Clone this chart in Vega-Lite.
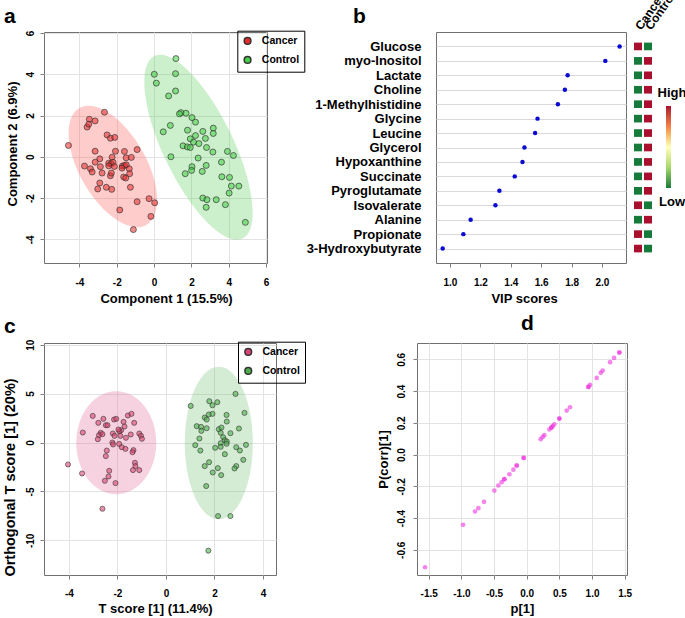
{
  "$schema": "https://vega.github.io/schema/vega-lite/v6.json",
  "autosize": {"type": "none"},
  "padding": {"left": 44, "top": 32, "right": 641, "bottom": 586},
  "background": "white",
  "datasets": {
    "a_points": [
      {"x": -2.66, "y": 2.16, "group": "Cancer"}, {"x": -3.47, "y": 1.82, "group": "Cancer"}, {"x": -3.16, "y": 1.74, "group": "Cancer"},
      {"x": -3.59, "y": 1.44, "group": "Cancer"}, {"x": -3.5, "y": 1.58, "group": "Cancer"}, {"x": -2.52, "y": 1.06, "group": "Cancer"},
      {"x": -2.34, "y": 0.9, "group": "Cancer"}, {"x": -2.11, "y": 0.94, "group": "Cancer"}, {"x": -4.59, "y": 0.55, "group": "Cancer"},
      {"x": -3.16, "y": 0.27, "group": "Cancer"}, {"x": -2.07, "y": 0.27, "group": "Cancer"}, {"x": -1.59, "y": 0.26, "group": "Cancer"},
      {"x": -0.91, "y": 0.35, "group": "Cancer"}, {"x": -2.91, "y": -0.1, "group": "Cancer"}, {"x": -2.25, "y": -0.02, "group": "Cancer"},
      {"x": -1.5, "y": -0.05, "group": "Cancer"}, {"x": -1.22, "y": -0.03, "group": "Cancer"}, {"x": -3.73, "y": -0.45, "group": "Cancer"},
      {"x": -3.41, "y": -0.58, "group": "Cancer"}, {"x": -3.32, "y": -0.74, "group": "Cancer"}, {"x": -3.16, "y": -0.26, "group": "Cancer"},
      {"x": -2.88, "y": -0.48, "group": "Cancer"}, {"x": -2.79, "y": -0.79, "group": "Cancer"}, {"x": -2.43, "y": -0.31, "group": "Cancer"},
      {"x": -2.3, "y": -0.34, "group": "Cancer"}, {"x": -2.2, "y": -0.27, "group": "Cancer"}, {"x": -2.43, "y": -0.44, "group": "Cancer"},
      {"x": -2.13, "y": -0.47, "group": "Cancer"}, {"x": -2.34, "y": -0.92, "group": "Cancer"}, {"x": -2.29, "y": -0.79, "group": "Cancer"},
      {"x": -1.7, "y": -0.45, "group": "Cancer"}, {"x": -1.59, "y": -0.42, "group": "Cancer"}, {"x": -1.49, "y": -0.39, "group": "Cancer"},
      {"x": -1.72, "y": -0.55, "group": "Cancer"}, {"x": -1.63, "y": -0.98, "group": "Cancer"}, {"x": -1.52, "y": -1.03, "group": "Cancer"},
      {"x": -1.33, "y": -0.58, "group": "Cancer"}, {"x": -1.31, "y": -0.82, "group": "Cancer"}, {"x": -2.91, "y": -1.27, "group": "Cancer"},
      {"x": -3.02, "y": -1.56, "group": "Cancer"}, {"x": -2.56, "y": -1.48, "group": "Cancer"}, {"x": -2.27, "y": -1.58, "group": "Cancer"},
      {"x": -1.27, "y": -1.48, "group": "Cancer"}, {"x": -0.91, "y": -2.18, "group": "Cancer"}, {"x": -0.27, "y": -2.03, "group": "Cancer"},
      {"x": 0.03, "y": -2.23, "group": "Cancer"}, {"x": -1.84, "y": -2.58, "group": "Cancer"}, {"x": -0.17, "y": -2.89, "group": "Cancer"},
      {"x": -1.11, "y": -3.53, "group": "Cancer"},
      {"x": 1.17, "y": 4.76, "group": "Control"}, {"x": 0.01, "y": 4.0, "group": "Control"}, {"x": 1.15, "y": 4.03, "group": "Control"},
      {"x": 0.12, "y": 3.57, "group": "Control"}, {"x": 1.15, "y": 3.19, "group": "Control"}, {"x": 0.78, "y": 2.95, "group": "Control"},
      {"x": 1.44, "y": 2.14, "group": "Control"}, {"x": 1.71, "y": 2.11, "group": "Control"}, {"x": 1.36, "y": 2.08, "group": "Control"},
      {"x": 2.03, "y": 1.9, "group": "Control"}, {"x": 2.22, "y": 1.68, "group": "Control"}, {"x": 0.87, "y": 1.52, "group": "Control"},
      {"x": 0.49, "y": 1.21, "group": "Control"}, {"x": 1.79, "y": 1.29, "group": "Control"}, {"x": 2.61, "y": 1.23, "group": "Control"},
      {"x": 3.17, "y": 1.39, "group": "Control"}, {"x": 3.17, "y": 1.13, "group": "Control"}, {"x": 2.22, "y": 1.03, "group": "Control"},
      {"x": 1.94, "y": 0.87, "group": "Control"}, {"x": 2.75, "y": 0.89, "group": "Control"}, {"x": 2.11, "y": 0.71, "group": "Control"},
      {"x": 2.4, "y": 0.64, "group": "Control"}, {"x": 1.55, "y": 0.53, "group": "Control"}, {"x": 1.78, "y": 0.48, "group": "Control"},
      {"x": 1.94, "y": 0.45, "group": "Control"}, {"x": 2.81, "y": 0.45, "group": "Control"}, {"x": 3.93, "y": 0.26, "group": "Control"},
      {"x": 4.25, "y": 0.06, "group": "Control"}, {"x": 3.15, "y": 0.23, "group": "Control"}, {"x": 0.9, "y": 0.0, "group": "Control"},
      {"x": 2.36, "y": -0.06, "group": "Control"}, {"x": 3.61, "y": -0.26, "group": "Control"}, {"x": 2.79, "y": -0.42, "group": "Control"},
      {"x": 2.03, "y": -0.48, "group": "Control"}, {"x": 2.01, "y": -0.66, "group": "Control"}, {"x": 2.58, "y": -0.71, "group": "Control"},
      {"x": 1.67, "y": -0.82, "group": "Control"}, {"x": 3.63, "y": -0.97, "group": "Control"}, {"x": 4.04, "y": -1.0, "group": "Control"},
      {"x": 4.14, "y": -1.42, "group": "Control"}, {"x": 4.54, "y": -1.42, "group": "Control"}, {"x": 4.02, "y": -1.76, "group": "Control"},
      {"x": 2.61, "y": -2.0, "group": "Control"}, {"x": 2.83, "y": -2.08, "group": "Control"}, {"x": 3.33, "y": -2.08, "group": "Control"},
      {"x": 2.79, "y": -2.45, "group": "Control"}, {"x": 3.82, "y": -2.32, "group": "Control"}, {"x": 4.89, "y": -3.18, "group": "Control"}
    ],
    "c_points": [
      {"x": -3.02, "y": 2.72, "group": "Cancer"}, {"x": -2.58, "y": 2.42, "group": "Cancer"}, {"x": -2.79, "y": 2.01, "group": "Cancer"},
      {"x": -2.48, "y": 1.77, "group": "Cancer"}, {"x": -2.41, "y": 1.77, "group": "Cancer"}, {"x": -2.14, "y": 2.35, "group": "Cancer"},
      {"x": -2.05, "y": 2.42, "group": "Cancer"}, {"x": -1.75, "y": 2.11, "group": "Cancer"}, {"x": -1.57, "y": 2.76, "group": "Cancer"},
      {"x": -1.42, "y": 2.93, "group": "Cancer"}, {"x": -1.31, "y": 2.01, "group": "Cancer"}, {"x": -1.71, "y": 1.63, "group": "Cancer"},
      {"x": -1.85, "y": 1.26, "group": "Cancer"}, {"x": -1.92, "y": 1.15, "group": "Cancer"}, {"x": -1.96, "y": 1.33, "group": "Cancer"},
      {"x": -3.43, "y": 1.02, "group": "Cancer"}, {"x": -2.69, "y": 0.99, "group": "Cancer"}, {"x": -2.76, "y": 0.75, "group": "Cancer"},
      {"x": -2.62, "y": 0.85, "group": "Cancer"}, {"x": -2.81, "y": 0.34, "group": "Cancer"}, {"x": -2.19, "y": 0.92, "group": "Cancer"},
      {"x": -2.12, "y": 0.68, "group": "Cancer"}, {"x": -1.88, "y": 0.68, "group": "Cancer"}, {"x": -1.65, "y": 0.48, "group": "Cancer"},
      {"x": -1.45, "y": 0.82, "group": "Cancer"}, {"x": -1.1, "y": 0.92, "group": "Cancer"}, {"x": -1.03, "y": 0.68, "group": "Cancer"},
      {"x": -0.99, "y": 0.38, "group": "Cancer"}, {"x": -2.21, "y": 0.0, "group": "Cancer"}, {"x": -2.18, "y": -0.2, "group": "Cancer"},
      {"x": -1.93, "y": -0.14, "group": "Cancer"}, {"x": -1.82, "y": -0.48, "group": "Cancer"}, {"x": -1.67, "y": -0.65, "group": "Cancer"},
      {"x": -1.34, "y": -0.78, "group": "Cancer"}, {"x": -1.38, "y": -0.99, "group": "Cancer"}, {"x": -2.44, "y": -0.82, "group": "Cancer"},
      {"x": -2.48, "y": -1.39, "group": "Cancer"}, {"x": -1.28, "y": -2.07, "group": "Cancer"}, {"x": -1.26, "y": -2.41, "group": "Cancer"},
      {"x": -1.36, "y": -2.82, "group": "Cancer"}, {"x": -1.1, "y": -2.82, "group": "Cancer"}, {"x": -2.34, "y": -2.89, "group": "Cancer"},
      {"x": -2.37, "y": -3.47, "group": "Cancer"}, {"x": -2.52, "y": -3.91, "group": "Cancer"}, {"x": -2.08, "y": -4.15, "group": "Cancer"},
      {"x": -4.04, "y": -2.24, "group": "Cancer"}, {"x": -3.46, "y": -3.16, "group": "Cancer"}, {"x": -2.62, "y": -6.77, "group": "Cancer"},
      {"x": 2.87, "y": 4.97, "group": "Control"}, {"x": 1.02, "y": 3.74, "group": "Control"}, {"x": 1.79, "y": 4.22, "group": "Control"},
      {"x": 2.12, "y": 4.12, "group": "Control"}, {"x": 1.92, "y": 3.81, "group": "Control"}, {"x": 3.24, "y": 3.03, "group": "Control"},
      {"x": 1.77, "y": 2.86, "group": "Control"}, {"x": 1.92, "y": 2.93, "group": "Control"}, {"x": 1.6, "y": 2.55, "group": "Control"},
      {"x": 1.68, "y": 2.35, "group": "Control"}, {"x": 2.5, "y": 2.82, "group": "Control"}, {"x": 2.51, "y": 2.14, "group": "Control"},
      {"x": 1.27, "y": 1.67, "group": "Control"}, {"x": 1.45, "y": 1.6, "group": "Control"}, {"x": 1.68, "y": 1.46, "group": "Control"},
      {"x": 1.46, "y": 1.19, "group": "Control"}, {"x": 2.18, "y": 1.36, "group": "Control"}, {"x": 2.29, "y": 1.53, "group": "Control"},
      {"x": 3.01, "y": 1.43, "group": "Control"}, {"x": 2.26, "y": 0.99, "group": "Control"}, {"x": 2.66, "y": 0.95, "group": "Control"},
      {"x": 2.36, "y": 0.54, "group": "Control"}, {"x": 2.43, "y": 0.24, "group": "Control"}, {"x": 2.51, "y": 0.1, "group": "Control"},
      {"x": 1.38, "y": 0.41, "group": "Control"}, {"x": 2.26, "y": -0.07, "group": "Control"}, {"x": 2.5, "y": -0.13, "group": "Control"},
      {"x": 1.21, "y": -0.27, "group": "Control"}, {"x": 2.03, "y": -0.54, "group": "Control"}, {"x": 2.26, "y": -0.44, "group": "Control"},
      {"x": 2.9, "y": -0.48, "group": "Control"}, {"x": 3.3, "y": -0.24, "group": "Control"}, {"x": 3.05, "y": -0.82, "group": "Control"},
      {"x": 1.42, "y": -0.82, "group": "Control"}, {"x": 2.43, "y": -1.19, "group": "Control"}, {"x": 3.19, "y": -1.77, "group": "Control"},
      {"x": 1.78, "y": -2.01, "group": "Control"}, {"x": 1.6, "y": -2.41, "group": "Control"}, {"x": 2.14, "y": -2.62, "group": "Control"},
      {"x": 2.9, "y": -2.41, "group": "Control"}, {"x": 2.83, "y": -2.65, "group": "Control"}, {"x": 1.93, "y": -3.06, "group": "Control"},
      {"x": 2.28, "y": -3.33, "group": "Control"}, {"x": 1.66, "y": -4.45, "group": "Control"}, {"x": 2.15, "y": -7.52, "group": "Control"},
      {"x": 2.66, "y": -7.52, "group": "Control"}, {"x": 1.75, "y": -11.05, "group": "Control"}
    ],
    "vip": [
      {"metabolite": "Glucose", "vip": 2.116}, {"metabolite": "myo-Inositol", "vip": 2.022}, {"metabolite": "Lactate", "vip": 1.774},
      {"metabolite": "Choline", "vip": 1.756}, {"metabolite": "1-Methylhistidine", "vip": 1.71}, {"metabolite": "Glycine", "vip": 1.576},
      {"metabolite": "Leucine", "vip": 1.56}, {"metabolite": "Glycerol", "vip": 1.49}, {"metabolite": "Hypoxanthine", "vip": 1.477},
      {"metabolite": "Succinate", "vip": 1.426}, {"metabolite": "Pyroglutamate", "vip": 1.325}, {"metabolite": "Isovalerate", "vip": 1.299},
      {"metabolite": "Alanine", "vip": 1.136}, {"metabolite": "Propionate", "vip": 1.088}, {"metabolite": "3-Hydroxybutyrate", "vip": 0.952}
    ],
    "heat": [
      {"metabolite": "Glucose", "group": "Cancer", "level": 1}, {"metabolite": "Glucose", "group": "Control", "level": 0},
      {"metabolite": "myo-Inositol", "group": "Cancer", "level": 0}, {"metabolite": "myo-Inositol", "group": "Control", "level": 1},
      {"metabolite": "Lactate", "group": "Cancer", "level": 0}, {"metabolite": "Lactate", "group": "Control", "level": 1},
      {"metabolite": "Choline", "group": "Cancer", "level": 0}, {"metabolite": "Choline", "group": "Control", "level": 1},
      {"metabolite": "1-Methylhistidine", "group": "Cancer", "level": 0}, {"metabolite": "1-Methylhistidine", "group": "Control", "level": 1},
      {"metabolite": "Glycine", "group": "Cancer", "level": 0}, {"metabolite": "Glycine", "group": "Control", "level": 1},
      {"metabolite": "Leucine", "group": "Cancer", "level": 0}, {"metabolite": "Leucine", "group": "Control", "level": 1},
      {"metabolite": "Glycerol", "group": "Cancer", "level": 0}, {"metabolite": "Glycerol", "group": "Control", "level": 1},
      {"metabolite": "Hypoxanthine", "group": "Cancer", "level": 0}, {"metabolite": "Hypoxanthine", "group": "Control", "level": 1},
      {"metabolite": "Succinate", "group": "Cancer", "level": 0}, {"metabolite": "Succinate", "group": "Control", "level": 1},
      {"metabolite": "Pyroglutamate", "group": "Cancer", "level": 0}, {"metabolite": "Pyroglutamate", "group": "Control", "level": 1},
      {"metabolite": "Isovalerate", "group": "Cancer", "level": 1}, {"metabolite": "Isovalerate", "group": "Control", "level": 0},
      {"metabolite": "Alanine", "group": "Cancer", "level": 0}, {"metabolite": "Alanine", "group": "Control", "level": 1},
      {"metabolite": "Propionate", "group": "Cancer", "level": 1}, {"metabolite": "Propionate", "group": "Control", "level": 0},
      {"metabolite": "3-Hydroxybutyrate", "group": "Cancer", "level": 1}, {"metabolite": "3-Hydroxybutyrate", "group": "Control", "level": 0}
    ],
    "splot": [
      {"p": -1.556, "pcorr": -0.71}, {"p": -0.974, "pcorr": -0.443}, {"p": -0.791, "pcorr": -0.359}, {"p": -0.74, "pcorr": -0.338},
      {"p": -0.653, "pcorr": -0.298}, {"p": -0.495, "pcorr": -0.227}, {"p": -0.434, "pcorr": -0.195}, {"p": -0.383, "pcorr": -0.174},
      {"p": -0.342, "pcorr": -0.155}, {"p": -0.342, "pcorr": -0.155}, {"p": -0.265, "pcorr": -0.124}, {"p": -0.204, "pcorr": -0.095},
      {"p": -0.153, "pcorr": -0.069}, {"p": -0.153, "pcorr": -0.069}, {"p": -0.046, "pcorr": -0.021}, {"p": -0.046, "pcorr": -0.021},
      {"p": 0.214, "pcorr": 0.097}, {"p": 0.245, "pcorr": 0.111}, {"p": 0.27, "pcorr": 0.122}, {"p": 0.347, "pcorr": 0.158},
      {"p": 0.378, "pcorr": 0.17}, {"p": 0.378, "pcorr": 0.17}, {"p": 0.398, "pcorr": 0.179}, {"p": 0.423, "pcorr": 0.191},
      {"p": 0.5, "pcorr": 0.227}, {"p": 0.5, "pcorr": 0.227}, {"p": 0.612, "pcorr": 0.277}, {"p": 0.663, "pcorr": 0.298},
      {"p": 0.944, "pcorr": 0.426}, {"p": 0.944, "pcorr": 0.426}, {"p": 0.969, "pcorr": 0.439}, {"p": 1.071, "pcorr": 0.483},
      {"p": 1.133, "pcorr": 0.515}, {"p": 1.163, "pcorr": 0.529}, {"p": 1.276, "pcorr": 0.582}, {"p": 1.337, "pcorr": 0.609},
      {"p": 1.418, "pcorr": 0.643}, {"p": 1.418, "pcorr": 0.643}
    ]
  },
  "vconcat": [
    {
      "bounds": "flush",
      "spacing": 8,
      "resolve": {"scale": {"color": "independent"}, "legend": {"color": "independent"}},
      "hconcat": [
        {
          "width": 223, "height": 231,
          "title": {"text": "a", "dx": -40, "offset": 3},
          "encoding": {
            "x": {"field": "x", "type": "quantitative", "scale": {"domain": [-5.9, 6.05], "nice": false, "zero": false},
                  "axis": {"title": "Component 1 (15.5%)", "titleX": 122, "values": [-4, -2, 0, 2, 4, 6], "grid": true, "labelPadding": 10, "titlePadding": 5, "labelExpr": "replace(datum.label, '−', '-')"}},
            "y": {"field": "y", "type": "quantitative", "scale": {"domain": [-5.15, 6.05], "nice": false, "zero": false},
                  "axis": {"title": "Component 2 (6.9%)", "titleY": 111.5, "values": [-4, -2, 0, 2, 4, 6], "grid": true, "labelAngle": -90, "labelAlign": "center", "labelBaseline": "alphabetic", "labelPadding": 6.7, "titlePadding": 6, "labelExpr": "replace(datum.label, '−', '-')"}}
          },
          "layer": [
            {"data": {"values": [{"x": -2.21, "y": -0.47}]},
             "mark": {"type": "point", "shape": "M 1 0 C 1 0.274 0.5523 0.496 0 0.496 C -0.5523 0.496 -1 0.274 -1 0 C -1 -0.274 -0.5523 -0.496 0 -0.496 C 0.5523 -0.496 1 -0.274 1 0 Z", "size": 18117, "angle": 60.2, "filled": true, "fill": "#ff5555", "fillOpacity": 0.3, "opacity": 1, "strokeWidth": 0}},
            {"data": {"values": [{"x": 2.38, "y": 0.46}]},
             "mark": {"type": "point", "shape": "M 1 0 C 1 0.1908 0.5523 0.3455 0 0.3455 C -0.5523 0.3455 -1 0.1908 -1 0 C -1 -0.1908 -0.5523 -0.3455 0 -0.3455 C 0.5523 -0.3455 1 -0.1908 1 0 Z", "size": 41047, "angle": 64.2, "filled": true, "fill": "#55cd55", "fillOpacity": 0.3, "opacity": 1, "strokeWidth": 0}},
            {"data": {"name": "a_points"},
             "mark": {"type": "point", "filled": true, "size": 36, "fillOpacity": 0.55, "opacity": 1, "stroke": "#333333", "strokeWidth": 0.8, "strokeOpacity": 0.85},
             "encoding": {
               "color": {"field": "group", "type": "nominal", "scale": {"domain": ["Cancer", "Control"], "range": ["#e82a2a", "#44d044"]},
                         "legend": {"title": null, "orient": "none", "legendX": 193.3, "legendY": -1.3, "symbolType": "circle", "symbolSize": 45, "labelFontSize": 10.5, "labelFontWeight": "bold", "labelOffset": 9, "rowPadding": 5, "padding": 5, "strokeColor": "#000000", "labelExpr": "datum.label + '     '",
                                    "encode": {"symbols": {"update": {"fill": {"signal": "datum.value === 'Cancer' ? '#ee1111' : '#11cc11'"}, "fillOpacity": {"value": 1}, "opacity": {"value": 1}, "strokeWidth": {"value": 0}}}, "legend": {"update": {"strokeWidth": {"value": 1.2}}}}}}
             }}
          ]
        },
        {"width": 153, "height": 231, "data": {"values": [{}]}, "mark": {"type": "point", "opacity": 0}, "view": {"stroke": null}},
        {
          "width": 190, "height": 231,
          "title": {"text": "b", "dx": -83, "offset": 5.5},
          "data": {"name": "vip"},
          "mark": {"type": "circle", "color": "#0a0ad2", "size": 20, "opacity": 1},
          "encoding": {
            "x": {"field": "vip", "type": "quantitative", "scale": {"domain": [0.908, 2.158], "nice": false, "zero": false},
                  "axis": {"title": "VIP scores", "titleX": 88, "values": [1.0, 1.2, 1.4, 1.6, 1.8, 2.0], "format": ".1f", "grid": false, "labelPadding": 10, "titlePadding": 5}},
            "y": {"field": "metabolite", "type": "nominal", "sort": null, "scale": {"type": "point", "padding": 1},
                  "axis": {"title": null, "labelFontSize": 13, "ticks": false, "labelPadding": 15, "grid": true, "gridColor": "#d9d9d9"}}
          }
        },
        {
          "width": 18, "height": 231,
          "view": {"stroke": null},
          "data": {"name": "heat"},
          "mark": {"type": "rect"},
          "encoding": {
            "x": {"field": "group", "type": "nominal", "sort": ["Cancer", "Control"], "scale": {"paddingInner": 0.2, "paddingOuter": 0},
                  "axis": {"orient": "top", "title": null, "labelAngle": -55, "labelAlign": "left", "labelBaseline": "middle", "ticks": false, "labelPadding": 4, "labelFontSize": 12}},
            "y": {"field": "metabolite", "type": "nominal",
                  "sort": ["Glucose", "myo-Inositol", "Lactate", "Choline", "1-Methylhistidine", "Glycine", "Leucine", "Glycerol", "Hypoxanthine", "Succinate", "Pyroglutamate", "Isovalerate", "Alanine", "Propionate", "3-Hydroxybutyrate"],
                  "scale": {"paddingInner": 0.47, "paddingOuter": 0.735}, "axis": null},
            "color": {"field": "level", "type": "quantitative",
                      "scale": {"domain": [0, 0.25, 0.5, 0.75, 1], "range": ["#167a3a", "#a6d96a", "#ffffbf", "#f4814a", "#a8102e"]},
                      "legend": {"title": null, "orient": "none", "legendX": 32, "legendY": 74, "direction": "vertical", "gradientLength": 82, "gradientThickness": 5, "gradientStrokeWidth": 0,
                                 "values": [0, 1], "labelExpr": "datum.value == 1 ? 'High' : 'Low'", "labelFontSize": 13, "labelFontWeight": "bold", "labelAlign": "center", "labelOffset": 1, "labelOverlap": false, "padding": 0,
                                 "encode": {"labels": {"update": {"align": {"value": "center"}, "baseline": {"signal": "datum.value == 1 ? 'bottom' : 'top'"}, "dy": {"signal": "datum.value == 1 ? -6 : 8"}}}}}}
          }
        }
      ]
    },
    {
      "bounds": "flush",
      "spacing": 141,
      "resolve": {"scale": {"color": "independent"}, "legend": {"color": "independent"}},
      "hconcat": [
        {
          "width": 232, "height": 232,
          "title": {"text": "c", "dx": -40, "offset": 2.5},
          "encoding": {
            "x": {"field": "x", "type": "quantitative", "scale": {"domain": [-5.03, 4.54], "nice": false, "zero": false},
                  "axis": {"title": "T score [1] (11.4%)", "titleX": 111, "values": [-4, -2, 0, 2, 4], "grid": true, "labelPadding": 9, "titlePadding": 4, "labelExpr": "replace(datum.label, '−', '-')"}},
            "y": {"field": "y", "type": "quantitative", "scale": {"domain": [-13.54, 10.17], "nice": false, "zero": false},
                  "axis": {"title": "Orthogonal T score [1] (20%)", "titleFontSize": 14.5, "titleY": 134, "values": [-10, -5, 0, 5, 10], "grid": true, "labelAngle": -90, "labelAlign": "center", "labelBaseline": "alphabetic", "labelPadding": 6.7, "titlePadding": 8, "labelExpr": "replace(datum.label, '−', '-')"}}
          },
          "layer": [
            {"data": {"values": [{"x": -2.05, "y": -0.02}]},
             "mark": {"type": "point", "shape": "M 1 0 C 1 0.429 0.5523 0.777 0 0.777 C -0.5523 0.777 -1 0.429 -1 0 C -1 -0.429 -0.5523 -0.777 0 -0.777 C 0.5523 -0.777 1 -0.429 1 0 Z", "size": 10609, "angle": 90, "filled": true, "fill": "#e16998", "fillOpacity": 0.3, "opacity": 1, "strokeWidth": 0}},
            {"data": {"values": [{"x": 2.18, "y": -0.05}]},
             "mark": {"type": "point", "shape": "M 1 0 C 1 0.2465 0.5523 0.446 0 0.446 C -0.5523 0.446 -1 0.2465 -1 0 C -1 -0.2465 -0.5523 -0.446 0 -0.446 C 0.5523 -0.446 1 -0.2465 1 0 Z", "size": 23226, "angle": 90, "filled": true, "fill": "#70bc70", "fillOpacity": 0.3, "opacity": 1, "strokeWidth": 0}},
            {"data": {"name": "c_points"},
             "mark": {"type": "point", "filled": true, "size": 26, "fillOpacity": 0.6, "opacity": 1, "stroke": "#333333", "strokeWidth": 0.7, "strokeOpacity": 0.85},
             "encoding": {
               "color": {"field": "group", "type": "nominal", "scale": {"domain": ["Cancer", "Control"], "range": ["#dc4470", "#4caf4c"]},
                         "legend": {"title": null, "orient": "none", "legendX": 194, "legendY": -1.3, "symbolType": "circle", "symbolSize": 45, "labelFontSize": 10.5, "labelFontWeight": "bold", "labelOffset": 9, "rowPadding": 5, "padding": 5, "strokeColor": "#000000", "labelExpr": "datum.label + '     '",
                                    "encode": {"symbols": {"update": {"fill": {"signal": "datum.value === 'Cancer' ? '#ee1111' : '#11cc11'"}, "fillOpacity": {"value": 1}, "opacity": {"value": 1}, "strokeWidth": {"value": 0}}}, "legend": {"update": {"strokeWidth": {"value": 1.2}}}}}}
             }}
          ]
        },
        {
          "width": 210, "height": 232,
          "title": {"text": "d", "dx": 104, "offset": 9},
          "data": {"name": "splot"},
          "mark": {"type": "circle", "color": "#ee33dd", "size": 22, "opacity": 0.6},
          "encoding": {
            "x": {"field": "p", "type": "quantitative", "scale": {"domain": [-1.679, 1.535], "nice": false, "zero": false},
                  "axis": {"title": "p[1]", "values": [-1.5, -1.0, -0.5, 0.0, 0.5, 1.0, 1.5], "format": ".1f", "grid": true, "labelPadding": 9, "titlePadding": 4, "labelExpr": "replace(datum.label, '−', '-')"}},
            "y": {"field": "pcorr", "type": "quantitative", "scale": {"domain": [-0.759, 0.703], "nice": false, "zero": false},
                  "axis": {"title": "P(corr)[1]", "values": [-0.6, -0.4, -0.2, 0.0, 0.2, 0.4, 0.6], "format": ".1f", "grid": true, "labelAngle": -90, "labelAlign": "center", "labelBaseline": "alphabetic", "labelPadding": 9, "titlePadding": 6, "labelExpr": "replace(datum.label, '−', '-')"}}
          }
        }
      ]
    }
  ],
  "spacing": 6,
  "resolve": {"scale": {"color": "independent"}, "legend": {"color": "independent"}},
  "config": {
    "font": "Liberation Sans",
    "view": {"stroke": "#707070", "strokeWidth": 1},
    "axis": {"labelFont": "Liberation Sans", "labelFontWeight": "bold", "labelFontSize": 10, "labelColor": "#000000",
             "titleFont": "Liberation Sans", "titleFontWeight": "bold", "titleFontSize": 13, "titleColor": "#000000",
             "domain": false, "tickColor": "#808080", "tickSize": 4, "tickWidth": 1, "gridColor": "#e3e3e3", "gridWidth": 1,
             "labelFlush": false, "labelOverlap": false},
    "legend": {"labelFont": "Liberation Sans", "labelColor": "#000000"},
    "title": {"font": "Liberation Sans", "fontSize": 21, "fontWeight": "bold", "anchor": "start", "frame": "group", "baseline": "alphabetic", "color": "#000000"}
  }
}
